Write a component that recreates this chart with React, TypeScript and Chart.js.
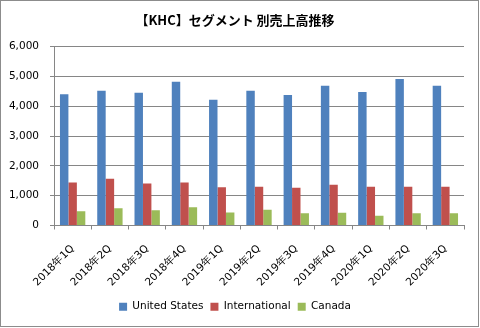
import React, { useEffect, useRef } from "react";
import { Chart, registerables } from "chart.js";

Chart.register(...registerables);

const categories = ["2018年1Q", "2018年2Q", "2018年3Q", "2018年4Q", "2019年1Q", "2019年2Q", "2019年3Q", "2019年4Q", "2020年1Q", "2020年2Q", "2020年3Q"];
const unitedStates = [4400, 4520, 4450, 4820, 4220, 4520, 4380, 4690, 4480, 4910, 4690];
const international = [1440, 1570, 1410, 1440, 1280, 1300, 1270, 1370, 1300, 1300, 1300];
const canada = [480, 580, 510, 610, 440, 530, 410, 430, 330, 410, 410];
const seriesNames = ["United States", "International", "Canada"];
const titleText = "【KHC】セグメント 別売上高推移";

export default function App() {
  const ref = useRef<HTMLCanvasElement>(null);
  useEffect(() => {
    document.body.style.margin = "0";
    const font = "'DejaVu Sans', Verdana, sans-serif";
    const chart = new Chart(ref.current!, {
      type: "bar",
      data: {
        labels: categories,
        datasets: [
          { label: seriesNames[0], data: unitedStates, backgroundColor: "#4F81BD" },
          { label: seriesNames[1], data: international, backgroundColor: "#C0504D" },
          { label: seriesNames[2], data: canada, backgroundColor: "#9BBB59" },
        ],
      },
      options: {
        animation: false,
        responsive: false,
        maintainAspectRatio: false,
        layout: { padding: { left: 6, right: 16, top: 4, bottom: 6 } },
        datasets: { bar: { categoryPercentage: 0.68, barPercentage: 1.0 } },
        plugins: {
          title: {
            display: true,
            text: titleText,
            color: "#000",
            font: { family: "'Noto Sans CJK JP', sans-serif", size: 13, weight: "bold" },
            padding: { top: 8, bottom: 19 },
          },
          legend: {
            position: "bottom",
            labels: {
              boxWidth: 8,
              boxHeight: 8,
              color: "#000",
              padding: 7,
              font: { family: font, size: 10.5 },
            },
          },
          tooltip: { enabled: false },
        },
        scales: {
          x: {
            grid: { display: true, drawOnChartArea: false, drawTicks: true, tickLength: 4, color: "#868686" },
            border: { display: true, color: "#868686" },
            afterFit: (s: any) => { s.paddingLeft = 0; s.paddingRight = 0; s.height = 69; },
            ticks: {
              color: "#000",
              minRotation: 45,
              maxRotation: 45,
              padding: 13,
              font: { family: font, size: 10.5 },
            },
          },
          y: {
            min: 0,
            max: 6000,
            grid: { color: "#868686", tickLength: 4 },
            border: { display: true, color: "#868686" },
            afterFit: (s: any) => { s.width = 48; },
            ticks: {
              stepSize: 1000,
              color: "#000",
              padding: 11,
              font: { family: font, size: 10.5 },
              callback: (v: any) => Number(v).toLocaleString("en-US"),
            },
          },
        },
      },
    });
    return () => chart.destroy();
  }, []);
  return (
    <div style={{ position: "absolute", left: 0, top: 0, width: 480, height: 328, background: "#fff" }}>
      <canvas ref={ref} width={480} height={328} style={{ position: "absolute", left: 0, top: 0 }} />
      <div style={{ position: "absolute", left: 0, top: 0, width: 477, height: 325, border: "1px solid #8c8c8c", pointerEvents: "none" }} />
    </div>
  );
}
